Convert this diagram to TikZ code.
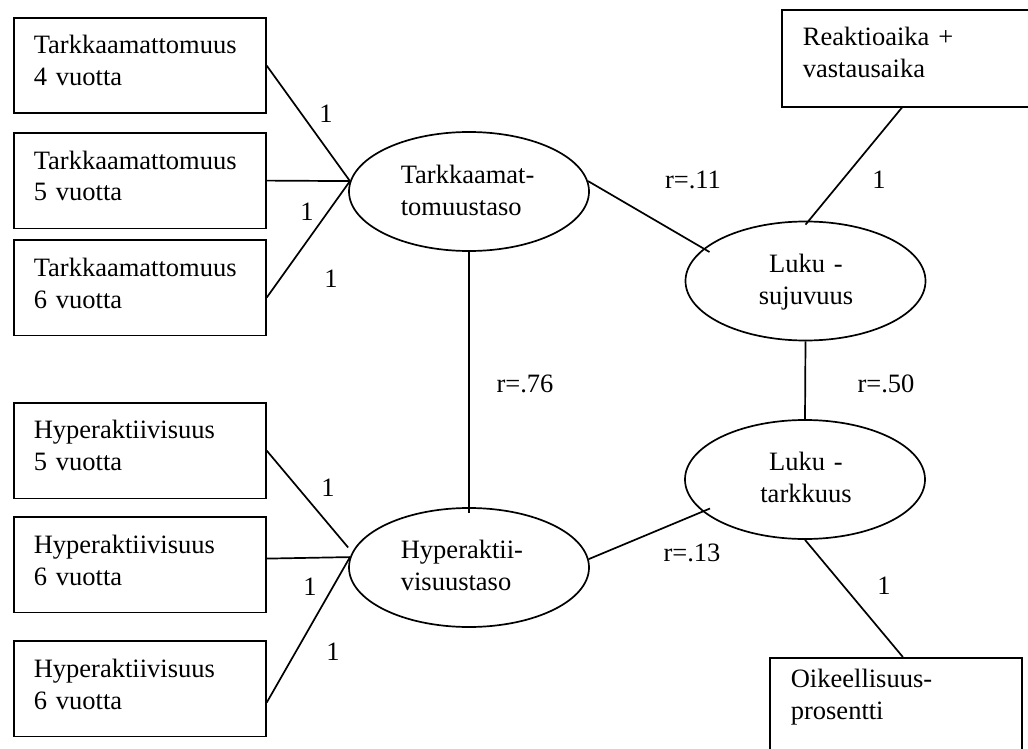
\documentclass[tikz,border=0pt]{standalone}
\usepackage{fontspec}
\setmainfont{Liberation Serif}
\usetikzlibrary{shapes.geometric,calc}
\begin{document}
\begin{tikzpicture}[x=1pt,y=-1pt,line width=1.7pt,
  box/.style={draw,rectangle,minimum width=252pt,minimum height=95.5pt,inner sep=0pt,anchor=north west},
  lat/.style={draw,ellipse,minimum width=240pt,minimum height=119pt,inner sep=0pt},
  txt/.style={font=\fontsize{26.5}{32}\selectfont,inner sep=0pt,text width=230pt,align=left,anchor=base west},
  ctxt/.style={font=\fontsize{26.5}{32}\selectfont,inner sep=0pt,text width=200pt,align=center,anchor=base},
  lbl/.style={font=\fontsize{26.5}{32}\selectfont,inner sep=0pt}]
\useasboundingbox (0,0) rectangle (1028,749);
% observed-variable boxes
\node[box] (t4) at (13,17) {};
\node[box] (t5) at (13,132) {};
\node[box] (t6) at (13,239) {};
\node[box] (h5) at (13,402) {};
\node[box] (h6) at (13,516) {};
\node[box] (h6b) at (13,640) {};
\node[box,minimum height=97pt] (re) at (781,9) {};
\node[box] (oi) at (769,657) {};
% latent ellipses
\node[lat] (tk) at (469,191.5) {};
\node[lat] (hy) at (469,567.5) {};
\node[lat] (lsu) at (805.5,281) {};
\node[lat] (lta) at (805,479.5) {};
% texts
\node[txt] (t4t) at ($(t4.north west)+(20,37)$) {Tarkkaamattomuus\\4 vuotta};
\node[txt] (t5t) at ($(t5.north west)+(20,37)$) {Tarkkaamattomuus\\5 vuotta};
\node[txt] (t6t) at ($(t6.north west)+(20,37)$) {Tarkkaamattomuus\\6 vuotta};
\node[txt] (h5t) at ($(h5.north west)+(20,36)$) {Hyperaktiivisuus\\5 vuotta};
\node[txt] (h6t) at ($(h6.north west)+(20,37)$) {Hyperaktiivisuus\\6 vuotta};
\node[txt] (h6bt) at ($(h6b.north west)+(20,37)$) {Hyperaktiivisuus\\6 vuotta};
\node[txt] (ret) at ($(re.north west)+(21,37)$) {Reaktioaika +\\vastausaika};
\node[txt] (oit) at ($(oi.north west)+(21,30)$) {Oikeellisuus-\\prosentti};
\node[txt] (tkt) at (400,183) {Tarkkaamat-\\tomuustaso};
\node[txt] (hyt) at (400,558) {Hyperaktii-\\visuustaso};
\node[ctxt] (lsut) at (806,272) {Luku -\\sujuvuus};
\node[ctxt] (ltat) at (806,470) {Luku -\\tarkkuus};
% connectors
\coordinate (tkin) at (tk.175);
\coordinate (hyin) at (hy.175);
\draw (t4.east) -- (tkin);
\draw (t5.east) -- (tkin);
\draw ($(t6.east)+(0,10)$) -- (tkin);
\draw (h5.east) -- ($(hy.west)+(0,-20)$);
\draw ($(h6.east)+(0,-6)$) -- (hyin);
\draw ($(h6b.east)+(0,14)$) -- (hyin);
\draw (tk.south) -- ($(hy.north)+(0,6)$);
\draw (tk.5) -- ($(lsu.center)+(-96,-29)$);
\draw ($(re.south)+(-6,0)$) -- ($(lsu.north)+(0,4)$);
\draw (lsu.south) -- (lta.north);
\draw (hy.4) -- ($(lta.center)+(-95,29)$);
\draw (lta.south) -- ($(oi.north)+(7,0)$);
% labels
\node[lbl] (l1) at (326,114) {1};
\node[lbl] (l2) at (307,212) {1};
\node[lbl] (l3) at (331,279) {1};
\node[lbl] (l4) at (328,488) {1};
\node[lbl] (l5) at (310,587) {1};
\node[lbl] (l6) at (333,652) {1};
\node[lbl] (r11) at (693,180) {r=.11};
\node[lbl] (l7) at (879,180) {1};
\node[lbl] (r76) at (525,384) {r=.76};
\node[lbl] (r50) at (886,384) {r=.50};
\node[lbl] (r13) at (692,553) {r=.13};
\node[lbl] (l8) at (884,586) {1};
\end{tikzpicture}
\end{document}
